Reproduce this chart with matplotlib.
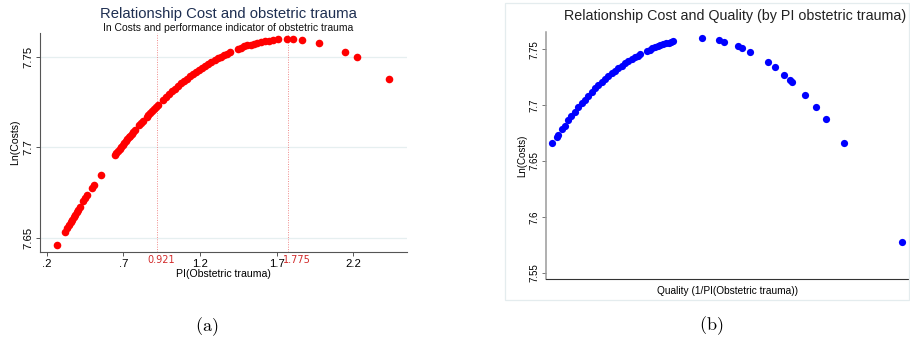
import matplotlib
matplotlib.use("Agg")
import matplotlib.pyplot as plt

plt.rcParams["font.family"] = ["Liberation Sans", "DejaVu Sans"]
plt.rcParams["mathtext.fontset"] = "cm"

# Panel (a): fitted Ln(Costs) against PI(Obstetric trauma)
pi_trauma = [
    0.269, 0.319, 0.335, 0.345, 0.355, 0.365, 0.375, 0.385, 0.395, 0.405,
    0.415, 0.439, 0.452, 0.465, 0.493, 0.509, 0.552,
    0.646, 0.655, 0.665, 0.675, 0.685, 0.695, 0.705, 0.715, 0.725, 0.735,
    0.745, 0.755, 0.765, 0.776, 0.804, 0.815, 0.826,
    0.852, 0.864, 0.876, 0.888, 0.900, 0.912, 0.926,
    0.957, 0.975, 0.995, 1.015, 1.035, 1.055, 1.075, 1.095, 1.115, 1.135,
    1.155, 1.175, 1.195, 1.215, 1.235, 1.255, 1.275, 1.295, 1.315, 1.335,
    1.355, 1.375, 1.396,
    1.450, 1.470, 1.490, 1.510, 1.530, 1.550, 1.575, 1.600, 1.625, 1.650,
    1.675, 1.711, 1.765, 1.809, 1.863, 1.978, 2.146, 2.222, 2.435,
]
ln_costs_a = [
    7.6461, 7.6535, 7.6558, 7.6573, 7.6587, 7.6601, 7.6615, 7.6629, 7.6643, 7.6657,
    7.6670, 7.6703, 7.6720, 7.6737, 7.6774, 7.6794, 7.6848,
    7.6958, 7.6969, 7.6980, 7.6991, 7.7002, 7.7013, 7.7023, 7.7034, 7.7045, 7.7055,
    7.7065, 7.7076, 7.7086, 7.7097, 7.7125, 7.7135, 7.7146,
    7.7170, 7.7181, 7.7192, 7.7203, 7.7213, 7.7224, 7.7236,
    7.7262, 7.7276, 7.7292, 7.7308, 7.7323, 7.7337, 7.7352, 7.7365, 7.7379, 7.7392,
    7.7404, 7.7417, 7.7428, 7.7440, 7.7451, 7.7462, 7.7472, 7.7482, 7.7491, 7.7500,
    7.7509, 7.7517, 7.7525,
    7.7544, 7.7550, 7.7556, 7.7562, 7.7567, 7.7572, 7.7577, 7.7582, 7.7586, 7.7589,
    7.7592, 7.7595, 7.7597, 7.7596, 7.7593, 7.7576, 7.7528, 7.7497, 7.7376,
]
a_xticks = [0.2, 0.7, 1.2, 1.7, 2.2]
a_xticklabels = [".2", ".7", "1.2", "1.7", "2.2"]
a_yticks = [7.65, 7.7, 7.75]
a_yticklabels = ["7.65", "7.7", "7.75"]
marked_pi = [0.921, 1.775]

# Panel (b): fitted Ln(Costs) against quality (1/PI)
quality = [
    0.400, 0.441, 0.457, 0.494, 0.520, 0.551, 0.580, 0.614, 0.645, 0.677,
    0.708, 0.740, 0.771, 0.803, 0.835, 0.866, 0.897, 0.929, 0.960, 0.992,
    1.023, 1.055, 1.086, 1.118, 1.150, 1.181, 1.205, 1.228,
    1.291, 1.320, 1.345, 1.370, 1.395, 1.420, 1.449, 1.475, 1.500, 1.520, 1.543,
    1.811, 1.978, 2.022, 2.157, 2.189, 2.271, 2.434, 2.504, 2.592, 2.645,
    2.667, 2.787, 2.888, 2.985, 3.155, 3.700,
]
ln_costs_b = [
    7.6658, 7.6718, 7.6733, 7.6784, 7.6818, 7.6867, 7.6903, 7.6942, 7.6980, 7.7016,
    7.7051, 7.7085, 7.7118, 7.7151, 7.7181, 7.7210, 7.7236, 7.7261, 7.7285, 7.7309,
    7.7332, 7.7354, 7.7374, 7.7393, 7.7411, 7.7428, 7.7442, 7.7455,
    7.7485, 7.7497, 7.7508, 7.7518, 7.7527, 7.7536, 7.7545, 7.7553, 7.7561, 7.7567, 7.7575,
    7.7599, 7.7581, 7.7569, 7.7530, 7.7515, 7.7479, 7.7384, 7.7339, 7.7273, 7.7225,
    7.7207, 7.7091, 7.6987, 7.6879, 7.6661, 7.5778,
]
b_yticks = [7.55, 7.6, 7.65, 7.7, 7.75]
b_yticklabels = ["7.55", "7.6", "7.65", "7.7", "7.75"]

fig = plt.figure(figsize=(9.1, 3.41), dpi=100)

# ---- panel (a)
ax = fig.add_axes([0.044, 0.261, 0.403, 0.642])
ax.scatter(pi_trauma, ln_costs_a, s=30, color="#ff0000", linewidths=0, zorder=3)
ax.set_xlim(0.156, 2.55)
ax.set_ylim(7.6423, 7.763)
ax.set_xticks(a_xticks)
ax.set_xticklabels(a_xticklabels)
ax.set_yticks(a_yticks)
ax.set_yticklabels(a_yticklabels, rotation=90, va="center")
ax.yaxis.grid(True, color="#e6eff0", linewidth=0.9)
ax.set_axisbelow(True)
for x in marked_pi:
    ax.axvline(x, color="#f08a8a", linestyle=(0, (1, 1.5)), linewidth=0.7, zorder=1)
for x, dx in zip(marked_pi, [3.5, 9]):
    ax.annotate(f"{x:.3f}", (x, 0), xycoords=("data", "axes fraction"),
                xytext=(dx, -3), textcoords="offset pixels", ha="center", va="top",
                fontsize=7.0, color="#d22b2b", family="DejaVu Sans")
for side in ("top", "right"):
    ax.spines[side].set_visible(False)
ax.spines["left"].set_color("#555555")
ax.spines["bottom"].set_color("#555555")
ax.tick_params(labelsize=8.2, length=3, width=0.7, color="#555555", pad=2)
ax.set_xlabel("PI(Obstetric trauma)", fontsize=7.6, labelpad=0)
ax.set_ylabel("Ln(Costs)", fontsize=7.6, labelpad=2)
fig.text(0.251, 0.958, "Relationship Cost and obstetric trauma", ha="center",
         va="center", fontsize=10.7, color="#1e2f52")
fig.text(0.251, 0.918, "In Costs and performance indicator of obstetric trauma",
         ha="center", va="center", fontsize=7.5, color="#111111")
fig.text(0.227, 0.042, r"$\mathrm{(a)}$", ha="center", va="center", fontsize=13)

# ---- panel (b)
frame = plt.Rectangle((505 / 910, 1 - 300 / 341), 404 / 910, 297 / 341,
                      transform=fig.transFigure, fill=False,
                      edgecolor="#e4ecee", linewidth=0.9)
fig.add_artist(frame)
bx = fig.add_axes([0.600, 0.181, 0.398, 0.724])
bx.scatter(quality, ln_costs_b, s=27, color="#0000ff", linewidths=0, zorder=3)
bx.set_xlim(0.340, 3.763)
bx.set_ylim(7.5441, 7.7652)
bx.set_xticks([])
bx.set_yticks(b_yticks)
bx.set_yticklabels(b_yticklabels, rotation=90, va="center")
for side in ("top", "right"):
    bx.spines[side].set_visible(False)
bx.spines["left"].set_color("#9a9a9a")
bx.spines["left"].set_linewidth(1.1)
bx.spines["bottom"].set_color("#333333")
bx.tick_params(axis="y", labelsize=7.0, length=3, width=0.7, color="#777777", pad=2)
bx.set_xlabel("Quality (1/PI(Obstetric trauma))", fontsize=7.3, labelpad=5)
bx.set_ylabel("Ln(Costs)", fontsize=7.0, labelpad=1)
fig.text(0.808, 0.953, "Relationship Cost and Quality (by PI obstetric trauma)",
         ha="center", va="center", fontsize=10.3, color="#222222")
fig.text(0.782, 0.045, r"$\mathrm{(b)}$", ha="center", va="center", fontsize=13)

fig.savefig("out.png", dpi=100, facecolor="white")
